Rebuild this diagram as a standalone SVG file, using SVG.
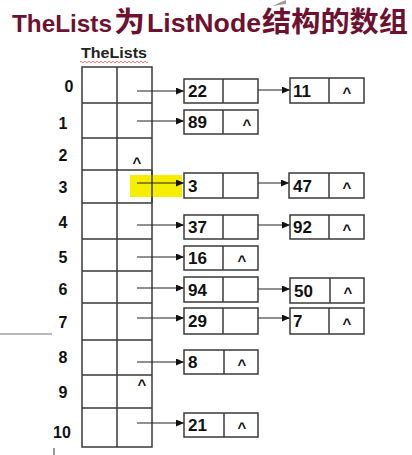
<svg xmlns="http://www.w3.org/2000/svg" width="412" height="455" viewBox="0 0 412 455">
<defs>
<style>
.ln{stroke:#3a3a3a;stroke-width:1.5;fill:none}
.box{stroke:#3a3a3a;stroke-width:1.5;fill:#fff}
.ar{stroke:#222;stroke-width:1.2;fill:none;marker-end:url(#ah)}
.num{font-family:"Liberation Sans",Arial,sans-serif;font-weight:bold;font-size:17px;fill:#111}
.idx{font-family:"Liberation Sans",Arial,sans-serif;font-weight:bold;font-size:16px;fill:#111;text-anchor:middle}
.nul{font-family:"Liberation Sans",Arial,sans-serif;font-weight:bold;font-size:15px;fill:#111;text-anchor:middle}
.ttl{font-family:"Liberation Sans",Arial,"Noto Sans CJK SC",sans-serif;font-weight:bold;font-size:26.5px;fill:#6e1030}
.cjk{font-family:"Noto Sans CJK SC",sans-serif;font-size:28px}
</style>
<marker id="ah" markerUnits="userSpaceOnUse" markerWidth="8" markerHeight="7" refX="8" refY="3.5" orient="auto">
<path d="M0,0 L8,3.5 L0,7 z" fill="#111"/>
</marker>
</defs>
<rect width="412" height="455" fill="#fff"/>
<path d="M272,6 L286,0 L286,4 z" fill="#9a9a9a"/>
<line x1="0" y1="334" x2="52" y2="334" stroke="#a0a0a0" stroke-width="1.5"/>
<line x1="54" y1="448" x2="54" y2="455" stroke="#777" stroke-width="1.5"/>
<g id="title">
<text class="ttl" y="32"><tspan x="12" font-size="24.3">TheLists</tspan><tspan class="cjk" x="114" textLength="31" lengthAdjust="spacingAndGlyphs">为</tspan><tspan x="147" textLength="114" lengthAdjust="spacingAndGlyphs">ListNode</tspan><tspan class="cjk" x="262" textLength="146" lengthAdjust="spacingAndGlyphs">结构的数组</tspan></text>
</g>
<g id="array">
<text x="81" y="58" font-family="Liberation Sans,Arial,sans-serif" font-weight="bold" font-size="15" fill="#222" textLength="66" lengthAdjust="spacingAndGlyphs">TheLists</text>
<path d="M80,62 q1,-1.6 2,0 t2,0 t2,0 t2,0 t2,0 t2,0 t2,0 t2,0 t2,0 t2,0 t2,0 t2,0 t2,0 t2,0 t2,0 t2,0 t2,0 t2,0 t2,0 t2,0 t2,0 t2,0 t2,0 t2,0 t2,0 t2,0 t2,0 t2,0 t2,0 t2,0 t2,0 t2,0 t2,0 t2,0" stroke="#e87878" stroke-width="1" fill="none"/>
<rect class="box" x="82" y="67" width="70" height="380"/>
<path class="ln" d="M117,67 V447 M82,103 H152 M82,138 H152 M82,170 H152 M82,203 H152 M82,239 H152 M82,271 H152 M82,303 H152 M82,340 H152 M82,375 H152 M82,408 H152"/>
<rect x="130" y="175" width="52" height="22" fill="#f5ee00"/>
<line class="ln" x1="152" y1="170" x2="152" y2="203"/>
<text class="idx" x="69" y="92">0</text>
<text class="idx" x="63" y="129">1</text>
<text class="idx" x="63" y="161">2</text>
<text class="idx" x="63" y="193">3</text>
<text class="idx" x="63" y="228">4</text>
<text class="idx" x="63" y="263">5</text>
<text class="idx" x="63" y="295">6</text>
<text class="idx" x="63" y="328">7</text>
<text class="idx" x="63" y="363">8</text>
<text class="idx" x="63" y="398">9</text>
<text class="idx" x="62" y="438">10</text>
<text class="nul" x="137" y="168">^</text>
<text class="nul" x="142" y="390">^</text>
</g>
<g id="connectors">
<line class="ar" x1="137" y1="91" x2="184" y2="91"/>
<line class="ar" x1="137" y1="121" x2="184" y2="121"/>
<line class="ar" x1="137" y1="183" x2="184" y2="183"/>
<line class="ar" x1="137" y1="225" x2="184" y2="225"/>
<line class="ar" x1="137" y1="257" x2="184" y2="257"/>
<line class="ar" x1="137" y1="288" x2="184" y2="288"/>
<line class="ar" x1="137" y1="318" x2="184" y2="318"/>
<line class="ar" x1="137" y1="362" x2="184" y2="362"/>
<line class="ar" x1="137" y1="423" x2="184" y2="423"/>
<line class="ar" x1="242" y1="90" x2="290" y2="90"/>
<line class="ar" x1="242" y1="183" x2="289" y2="183"/>
<line class="ar" x1="242" y1="225" x2="290" y2="225"/>
<line class="ar" x1="243" y1="289" x2="290" y2="289"/>
<line class="ar" x1="242" y1="318" x2="290" y2="318"/>
</g>
<g id="n22"><rect class="box" x="184" y="79" width="74" height="24"/><line class="ln" x1="223" y1="79" x2="223" y2="103"/><text class="num" x="188" y="97">22</text></g>
<g id="n11"><rect class="box" x="290" y="78" width="74" height="25"/><line class="ln" x1="329" y1="78" x2="329" y2="103"/><text class="num" x="293" y="96.5">11</text><text class="nul" x="347" y="98">^</text></g>
<g id="n89"><rect class="box" x="184" y="110" width="74" height="24"/><line class="ln" x1="223" y1="110" x2="223" y2="134"/><text class="num" x="188" y="128">89</text><text class="nul" x="247" y="129.5">^</text></g>
<g id="n3"><rect class="box" x="184" y="173" width="74" height="25"/><line class="ln" x1="223" y1="173" x2="223" y2="198"/><text class="num" x="188" y="191.5">3</text></g>
<g id="n47"><rect class="box" x="289" y="173" width="75" height="25"/><line class="ln" x1="329" y1="173" x2="329" y2="198"/><text class="num" x="293" y="191.5">47</text><text class="nul" x="347" y="193">^</text></g>
<g id="n37"><rect class="box" x="184" y="215" width="74" height="24"/><line class="ln" x1="223" y1="215" x2="223" y2="239"/><text class="num" x="188" y="233">37</text></g>
<g id="n92"><rect class="box" x="290" y="215" width="74" height="24"/><line class="ln" x1="329" y1="215" x2="329" y2="239"/><text class="num" x="293" y="233">92</text><text class="nul" x="347" y="234.5">^</text></g>
<g id="n16"><rect class="box" x="184" y="246" width="74" height="24"/><line class="ln" x1="223" y1="246" x2="223" y2="270"/><text class="num" x="188" y="264">16</text><text class="nul" x="242" y="265.5">^</text></g>
<g id="n94"><rect class="box" x="184" y="277" width="74" height="25"/><line class="ln" x1="223" y1="277" x2="223" y2="302"/><text class="num" x="188" y="295.5">94</text></g>
<g id="n50"><rect class="box" x="290" y="278" width="74" height="25"/><line class="ln" x1="330" y1="278" x2="330" y2="303"/><text class="num" x="294" y="296.5">50</text><text class="nul" x="348" y="298">^</text></g>
<g id="n29"><rect class="box" x="184" y="308" width="74" height="26"/><line class="ln" x1="223" y1="308" x2="223" y2="334"/><text class="num" x="188" y="327">29</text></g>
<g id="n7"><rect class="box" x="290" y="308" width="74" height="26"/><line class="ln" x1="329" y1="308" x2="329" y2="334"/><text class="num" x="293" y="327">7</text><text class="nul" x="347" y="328.5">^</text></g>
<g id="n8"><rect class="box" x="184" y="350" width="74" height="24"/><line class="ln" x1="224" y1="350" x2="224" y2="374"/><text class="num" x="188" y="368">8</text><text class="nul" x="242" y="369.5">^</text></g>
<g id="n21"><rect class="box" x="184" y="413" width="74" height="24"/><line class="ln" x1="224" y1="413" x2="224" y2="437"/><text class="num" x="188" y="431">21</text><text class="nul" x="242" y="432.5">^</text></g>
</svg>
